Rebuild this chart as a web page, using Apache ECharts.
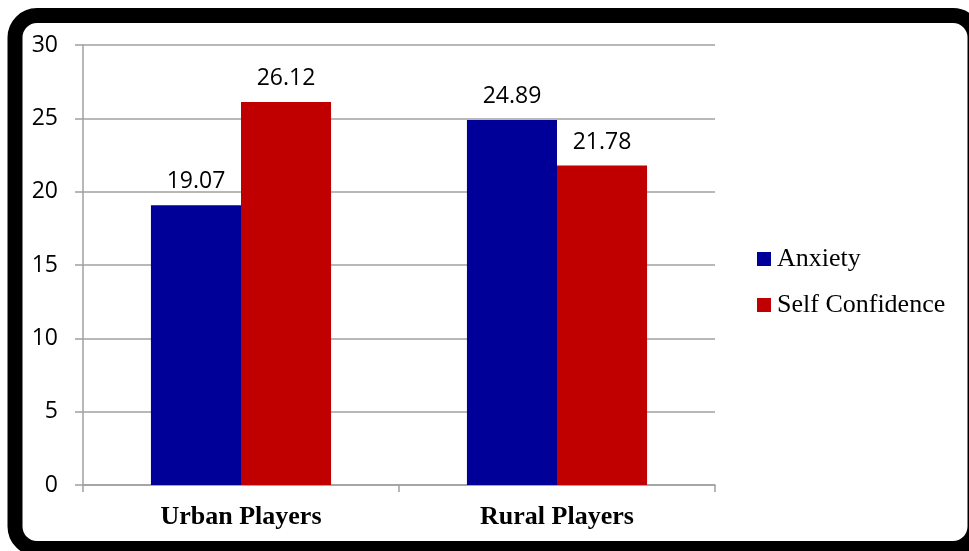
<!DOCTYPE html>
<html>
<head>
<meta charset="utf-8">
<script src="https://cdn.jsdelivr.net/npm/echarts@6/dist/echarts.min.js"></script>
<style>
  html, body { margin: 0; padding: 0; background: #fff; }
  #chart { width: 969px; height: 551px; }
</style>
</head>
<body>
<div id="chart"></div>
<script>
const categories = ['Urban Players', 'Rural Players']
const anxiety = [19.07, 24.89]
const selfConfidence = [26.12, 21.78]
const seriesNames = ['Anxiety', 'Self Confidence']

const echart = echarts.init(document.getElementById('chart'))

const gridColor = '#a0a0a0'
const numFont = 'Open Sans'

const dataLabel = {
  show: true,
  position: 'top',
  distance: 12,
  color: '#000',
  fontFamily: numFont,
  fontSize: 23,
  formatter: p => p.value.toFixed(2),
}

const options = {
  animation: false,
  backgroundColor: '#fff',
  graphic: [
    {
      type: 'rect',
      shape: {x: 15, y: 15.5, width: 960, height: 533, r: 22},
      style: {fill: 'none', stroke: '#000', lineWidth: 15},
      z: 100,
    },
  ],
  grid: {
    left: 83,
    right: 254,
    top: 45,
    bottom: 66,
  },
  legend: {
    orient: 'vertical',
    left: 757,
    top: 246,
    padding: 0,
    itemWidth: 14,
    itemHeight: 14,
    itemGap: 20,
    icon: 'rect',
    textStyle: {
      fontFamily: 'Liberation Serif',
      fontSize: 26,
      lineHeight: 26,
      color: '#000',
      padding: [0, 0, 0, 1],
    },
    data: seriesNames,
  },
  xAxis: {
    type: 'category',
    data: categories,
    axisLine: {lineStyle: {color: gridColor, width: 1.5}},
    axisTick: {show: true, length: 7, lineStyle: {color: gridColor, width: 1.5}},
    axisLabel: {
      color: '#000',
      fontFamily: 'Liberation Serif',
      fontWeight: 'bold',
      fontSize: 26,
      margin: 19,
    },
  },
  yAxis: {
    type: 'value',
    min: 0,
    max: 30,
    interval: 5,
    axisLine: {show: true, lineStyle: {color: gridColor, width: 1.5}},
    axisTick: {show: true, length: 8, lineStyle: {color: gridColor, width: 1.5}},
    axisLabel: {
      color: '#000',
      fontFamily: numFont,
      fontSize: 23,
      margin: 25,
    },
    splitLine: {lineStyle: {color: gridColor, width: 1.5}},
  },
  series: [
    {
      name: seriesNames[0],
      type: 'bar',
      data: anxiety,
      barGap: '0%',
      barCategoryGap: '43%',
      itemStyle: {color: '#000099'},
      label: dataLabel,
    },
    {
      name: seriesNames[1],
      type: 'bar',
      data: selfConfidence,
      itemStyle: {color: '#C00000'},
      label: dataLabel,
    },
  ],
}
options && echart.setOption(options)
</script>
</body>
</html>
